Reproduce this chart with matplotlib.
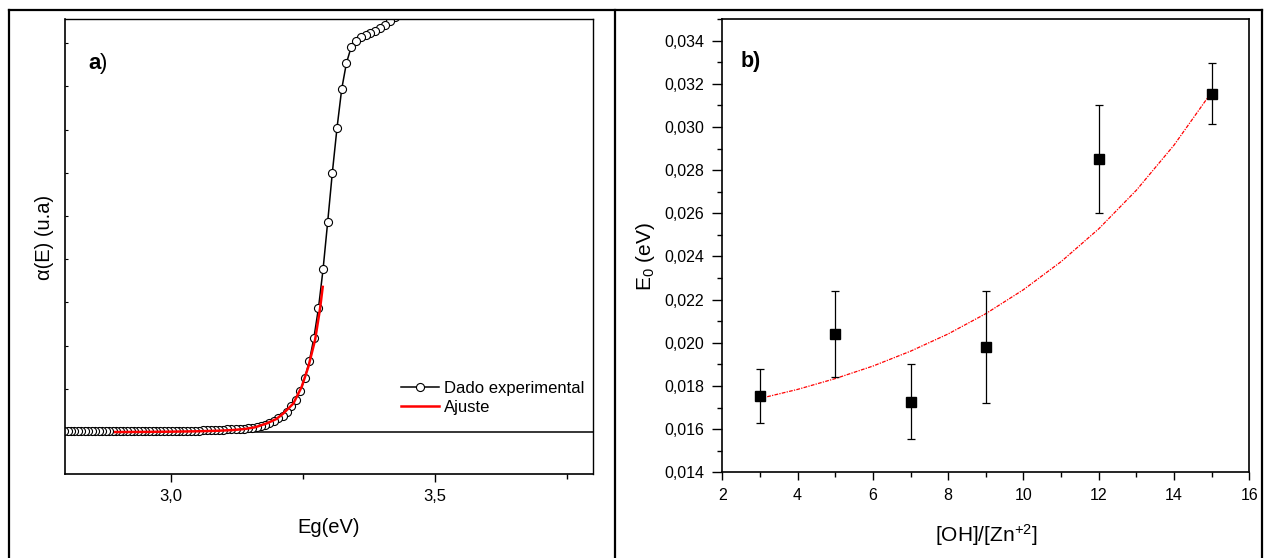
import matplotlib.pyplot as plt
import numpy as np
from matplotlib.lines import Line2D
from matplotlib.ticker import MultipleLocator, FuncFormatter

plt.rcParams['font.family'] = ['Liberation Sans', 'DejaVu Sans']
plt.rcParams['mathtext.fontset'] = 'custom'
plt.rcParams['mathtext.rm'] = 'Liberation Sans'
plt.rcParams['mathtext.it'] = 'Liberation Sans:italic'
plt.rcParams['mathtext.bf'] = 'Liberation Sans:bold'

energia = [3.4249, 3.4155, 3.4061, 3.3968, 3.3875, 3.3783, 3.3691, 3.3600, 3.3509,
           3.3419, 3.3329, 3.3240, 3.3151, 3.3062, 3.2974, 3.2887, 3.2800, 3.2713,
           3.2627, 3.2542, 3.2456, 3.2372, 3.2288, 3.2204, 3.2120, 3.2037, 3.1955,
           3.1872, 3.1791, 3.1709, 3.1629, 3.1548, 3.1468, 3.1388, 3.1309, 3.1230,
           3.1152, 3.1074, 3.0996, 3.0919, 3.0842, 3.0765, 3.0689, 3.0614, 3.0538,
           3.0463, 3.0388, 3.0314, 3.0240, 3.0166, 3.0093, 3.0021, 2.9948, 2.9876,
           2.9804, 2.9732, 2.9661, 2.9590, 2.9520, 2.9450, 2.9380, 2.9311, 2.9242,
           2.9173, 2.9104, 2.9036, 2.8968, 2.8901, 2.8834, 2.8767, 2.8700, 2.8634,
           2.8568, 2.8502, 2.8437, 2.8372, 2.8307, 2.8243, 2.8178, 2.8114, 2.8051,
           2.7987]
alfa = [9.60, 9.51, 9.42, 9.35, 9.28, 9.23, 9.19, 9.14, 9.06,
        8.91, 8.54, 7.94, 7.04, 6.00, 4.86, 3.77, 2.87, 2.18,
        1.64, 1.25, 0.95, 0.74, 0.60, 0.46, 0.37, 0.32, 0.26,
        0.20, 0.16, 0.13, 0.11, 0.10, 0.09, 0.08, 0.075, 0.07,
        0.065, 0.06, 0.055, 0.05, 0.05, 0.045, 0.04, 0.04, 0.035,
        0.035, 0.03, 0.03, 0.03, 0.03, 0.025, 0.025, 0.025, 0.025,
        0.025, 0.025, 0.02, 0.02, 0.02, 0.02, 0.02, 0.02, 0.02,
        0.02, 0.02, 0.02, 0.02, 0.02, 0.02, 0.02, 0.02, 0.02,
        0.02, 0.02, 0.02, 0.02, 0.02, 0.02, 0.02, 0.02, 0.02,
        0.02]

ajuste_e = [2.895, 2.95, 3.00, 3.05, 3.09, 3.118, 3.14, 3.16, 3.182, 3.20,
            3.2134, 3.2324, 3.2483, 3.2608, 3.2735, 3.283, 3.288]
ajuste_a = [0.0, 0.003, 0.008, 0.017, 0.03, 0.046, 0.07, 0.11, 0.20, 0.30,
            0.43, 0.66, 1.05, 1.51, 2.13, 2.86, 3.36]

# --- panel b: Urbach energy vs ratio
razao = [3, 5, 7, 9, 12, 15]
e0 = [0.01754, 0.0204, 0.01727, 0.01979, 0.0285, 0.03154]
e0_err = [0.00124, 0.0020, 0.00173, 0.0026, 0.0025, 0.0014]

fit_x = [3, 4, 5, 6, 7, 8, 9, 10, 11, 12, 13, 14, 15]
fit_y = [0.01742, 0.01784, 0.01834, 0.01892, 0.01961, 0.02041, 0.02135,
         0.02246, 0.02376, 0.02528, 0.02707, 0.02916, 0.03162]

fig = plt.figure(figsize=(12.68, 5.58), dpi=100)

# outer frame like the original page
for xs, ys in [([0.0071, 0.9953], [0.982, 0.982]),
               ([0.0071, 0.0071], [0.0, 0.982]),
               ([0.485, 0.485], [0.0, 0.982]),
               ([0.9953, 0.9953], [0.0, 0.982])]:
    fig.add_artist(Line2D(xs, ys, color='black', lw=1.6))

# ---------------- a)
ax1 = fig.add_axes([0.0513, 0.1505, 0.4164, 0.8154])
ax1.axhline(0, color='black', lw=1.1, zorder=1)
ax1.plot(energia, alfa, '-o', color='black', lw=1.1, ms=5.8, mfc='white',
         mec='black', mew=0.8, zorder=2, label='Dado experimental')
ax1.plot(ajuste_e, ajuste_a, '-', color='red', lw=1.8, zorder=3, label='Ajuste')
ax1.set_xlim(2.8, 3.8)
ax1.set_ylim(-0.972, 9.56)
ax1.xaxis.set_major_locator(MultipleLocator(0.5))
ax1.xaxis.set_minor_locator(MultipleLocator(0.25))
ax1.yaxis.set_major_locator(MultipleLocator(1))
ax1.xaxis.set_major_formatter(FuncFormatter(lambda v, p: f'{v:.1f}'.replace('.', ',')))
ax1.tick_params(axis='x', which='major', direction='out', length=5.8, width=1,
                labelsize=12, pad=5, top=False)
ax1.tick_params(axis='x', which='minor', direction='out', length=3.6, width=1, top=False)
ax1.tick_params(axis='y', which='major', direction='in', length=2.5, width=0.8,
                labelleft=False, right=False)
for s in ['left', 'bottom']:
    ax1.spines[s].set_linewidth(1.2)
for s in ['top', 'right']:
    ax1.spines[s].set_linewidth(1.0)
ax1.set_xlabel('Eg(eV)', fontsize=14.5, labelpad=10)
ax1.set_ylabel('α(E) (u.a)', fontsize=14.5)
ax1.yaxis.set_label_coords(-0.02, 0.52)
ax1.text(0.044, 0.89, 'a', transform=ax1.transAxes, fontsize=16, fontweight='bold',
         va='baseline')
ax1.text(0.067, 0.89, ')', transform=ax1.transAxes, fontsize=16, va='baseline')
ax1.legend(loc='upper left', bbox_to_anchor=(0.636, 0.205), frameon=False,
           fontsize=12, handlelength=2.3, handletextpad=0.3, labelspacing=0.25,
           borderpad=0, borderaxespad=0)

# ---------------- b)
ax2 = fig.add_axes([0.5696, 0.1536, 0.4157, 0.8123])
ax2.plot(fit_x, fit_y, color='red', lw=0.9, ls=(0, (3, 1, 1, 1)), zorder=2)
ax2.errorbar(razao, e0, yerr=e0_err, fmt='s', color='black', ms=6.5, ecolor='black',
             elinewidth=0.9, capsize=3, capthick=0.9, zorder=3)
ax2.set_xlim(2, 16)
ax2.set_ylim(0.014, 0.035)
ax2.xaxis.set_major_locator(MultipleLocator(2))
ax2.xaxis.set_minor_locator(MultipleLocator(1))
ax2.yaxis.set_major_locator(MultipleLocator(0.002))
ax2.yaxis.set_minor_locator(MultipleLocator(0.001))
ax2.yaxis.set_major_formatter(FuncFormatter(lambda v, p: f'{v:.3f}'.replace('.', ',')))
ax2.tick_params(axis='x', which='major', direction='out', length=6, width=1,
                labelsize=11.5, top=False, pad=5)
ax2.tick_params(axis='y', which='major', direction='out', length=7, width=1,
                labelsize=11.5, right=False, pad=6)
ax2.tick_params(which='minor', direction='out', length=3.5, width=1,
                top=False, right=False)
for s in ax2.spines.values():
    s.set_linewidth(1.2)
ax2.set_xlabel('[OH]/[Zn$^{+2}$]', fontsize=15, labelpad=14)
ax2.set_ylabel('E$_0$ (eV)', fontsize=15)
ax2.yaxis.set_label_coords(-0.124, 0.475)
ax2.text(0.034, 0.895, 'b)', transform=ax2.transAxes, fontsize=15.5,
         fontweight='bold', va='baseline')

fig.savefig('out.png', dpi=100)
